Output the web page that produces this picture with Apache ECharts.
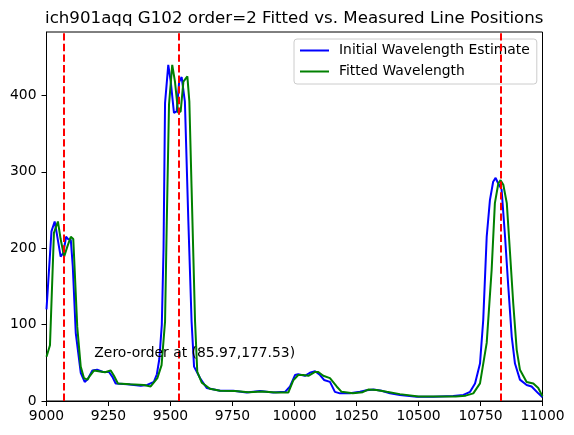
<!DOCTYPE html>
<html>
<head>
<meta charset="utf-8">
<script src="https://cdn.jsdelivr.net/npm/echarts@6/dist/echarts.min.js"></script>
<style>
html,body{margin:0;padding:0;background:#fff;}
#chart{width:574px;height:435px;}
</style>
</head>
<body>
<div id="chart"></div>
<script>
// Initial wavelength estimate (blue)
const blueWave = [
  9000, 9020, 9033, 9041, 9057, 9068, 9079, 9087, 9098, 9106,
  9118, 9138, 9154, 9165, 9185, 9204, 9228, 9252, 9265, 9279,
  9326, 9380, 9406, 9433, 9445, 9455, 9465, 9472, 9478, 9491,
  9501, 9514, 9525, 9535, 9545, 9552, 9558, 9572, 9585, 9595,
  9619, 9646, 9700, 9753, 9807, 9861, 9914, 9962, 9982, 10002,
  10015, 10042, 10062, 10083, 10103, 10119, 10143, 10163, 10183, 10224,
  10264, 10291, 10318, 10351, 10385, 10425, 10493, 10560, 10640, 10681,
  10708, 10728, 10748, 10761, 10775, 10788, 10801, 10811, 10818, 10835,
  10849, 10862, 10876, 10889, 10909, 10936, 10956, 10983, 11000
];
const blueFlux = [
  120, 222, 235, 220, 189, 194, 215, 212, 211, 176,
  89, 37, 25, 28, 40, 41, 38, 38, 32, 23,
  22, 20, 21, 25, 35, 55, 100, 200, 390, 440,
  418, 377, 379, 418, 424, 425, 392, 235, 104, 45,
  30, 17, 13.5, 13.5, 11, 13, 11, 12, 19, 34,
  35, 33, 37, 39, 34, 27.5, 25, 12, 10, 10,
  12, 14, 15, 13.5, 10, 8, 5.7, 5.7, 6.5, 8,
  12, 23, 49, 106, 215, 263, 287, 292, 287, 277,
  215, 150, 84, 49, 28, 21, 19, 10, 5
];
// Fitted wavelength (green)
const greenWave = [
  9000, 9014, 9030, 9046, 9057, 9071, 9084, 9098, 9108, 9124,
  9138, 9151, 9165, 9175, 9192, 9216, 9236, 9259, 9272, 9288,
  9337, 9393, 9420, 9447, 9464, 9478, 9485, 9494, 9507, 9518,
  9531, 9541, 9552, 9568, 9576, 9585, 9599, 9608, 9626, 9659,
  9700, 9760, 9815, 9870, 9925, 9975, 9995, 10015, 10035, 10056,
  10083, 10096, 10116, 10143, 10170, 10190, 10235, 10275, 10297, 10330,
  10372, 10425, 10500, 10570, 10650, 10690, 10721, 10748, 10775, 10795,
  10808, 10822, 10831, 10842, 10856, 10869, 10882, 10896, 10909, 10936,
  10963, 10983, 11000
];
const greenFlux = [
  58, 73, 220, 235, 212, 189, 202, 215, 212, 97,
  45, 30, 28, 33, 40, 38.7, 37.6, 40, 33, 23,
  22, 21, 19, 30, 47, 104, 235, 388, 440, 418,
  377, 379, 418, 425, 392, 279, 104, 38, 24, 16,
  13.5, 13, 11.5, 12.5, 11, 11, 27, 34, 34, 33,
  38, 38, 33, 30, 19, 12, 10, 11.5, 15, 14.5,
  12, 9, 6, 6, 6, 7, 10, 23, 76, 172,
  259, 285, 289, 283, 259, 194, 128, 67, 41, 25,
  23, 17, 6
];
// Measured line positions (red dashed)
const lineWaves = [9068, 9534, 10831];
// Zero-order annotation
const zeroOrderText = 'Zero-order at (85.97,177.53)';
const zeroOrderPos = [9191, 62];
// Axis ticks
const xTicks = [9000, 9250, 9500, 9750, 10000, 10250, 10500, 10750, 11000];
const yTicks = [0, 100, 200, 300, 400];

const FONT = 'DejaVu Sans';
const FS = 13.89;
const chart = echarts.init(document.getElementById('chart'), null, {renderer: 'canvas'});

const zip = (a, b) => a.map((v, i) => [v, b[i]]);

chart.setOption({
  animation: false,
  backgroundColor: '#ffffff',
  title: {
    text: 'ich901aqq G102 order=2 Fitted vs. Measured Line Positions',
    left: 45,
    top: 10,
    padding: 0,
    textStyle: {fontFamily: FONT, fontSize: 16.67, fontWeight: 'normal', color: '#000'}
  },
  legend: {
    orient: 'vertical',
    left: 294,
    top: 39,
    padding: [4, 7, 5, 5],
    itemWidth: 29,
    itemHeight: 15,
    itemGap: 6,
    itemStyle: {opacity: 0},
    backgroundColor: 'rgba(255,255,255,0.8)',
    borderColor: '#cccccc',
    borderWidth: 1,
    borderRadius: 3,
    textStyle: {fontFamily: FONT, fontSize: FS, lineHeight: 15, color: '#000', padding: [0, 0, 0, 5]},
    data: ['Initial Wavelength Estimate', 'Fitted Wavelength']
  },
  grid: {
    left: 46.5, right: 31.5, top: 32, bottom: 34,
    show: true, borderColor: '#000', borderWidth: 1, backgroundColor: 'transparent'
  },
  xAxis: {
    type: 'value',
    min: 9000, max: 11000, interval: 250,
    splitLine: {show: false},
    axisLine: {show: true, lineStyle: {color: '#000', width: 1}},
    axisTick: {show: true, inside: false, length: 5, lineStyle: {color: '#000'}, customValues: xTicks},
    axisLabel: {fontFamily: FONT, fontSize: FS, color: '#000', margin: 8, customValues: xTicks,
      formatter: v => String(v)}
  },
  yAxis: {
    type: 'value',
    min: 0, max: 483, interval: 100,
    splitLine: {show: false},
    axisLine: {show: true, lineStyle: {color: '#000', width: 1}},
    axisTick: {show: true, inside: false, length: 5, lineStyle: {color: '#000'}, customValues: yTicks},
    axisLabel: {fontFamily: FONT, fontSize: FS, color: '#000', margin: 10, customValues: yTicks,
      formatter: v => String(v)}
  },
  series: [
    {
      name: 'Initial Wavelength Estimate',
      type: 'line',
      data: zip(blueWave, blueFlux),
      symbol: 'none',
      lineStyle: {color: '#0000ff', width: 2},
      itemStyle: {color: '#0000ff'},
      z: 2,
      markPoint: {
        symbol: 'circle',
        symbolSize: 1,
        itemStyle: {color: 'rgba(0,0,0,0)'},
        label: {
          show: true, position: 'right', distance: 0,
          formatter: zeroOrderText,
          fontFamily: FONT, fontSize: FS, color: '#000'
        },
        data: [{coord: zeroOrderPos}]
      }
    },
    {
      name: 'Fitted Wavelength',
      type: 'line',
      data: zip(greenWave, greenFlux),
      symbol: 'none',
      lineStyle: {color: '#008000', width: 2},
      itemStyle: {color: '#008000'},
      z: 3,
      markLine: {
        silent: true,
        symbol: ['none', 'none'],
        label: {show: false},
        lineStyle: {color: '#ff0000', width: 2, type: [7.4, 3.2], opacity: 1},
        emphasis: {disabled: true},
        data: lineWaves.map(v => ({xAxis: v}))
      }
    }
  ]
});
</script>
</body>
</html>
